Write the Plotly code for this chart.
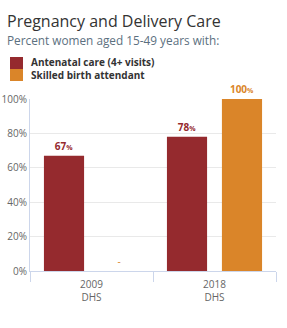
import plotly.graph_objects as go

categories = ["2009<br>DHS", "2018<br>DHS"]
antenatal = [67, 78]
skilled = [0, 100]
series_names = ["Antenatal care (4+ visits)", "Skilled birth attendant"]
colors = ["#952A2E", "#DA8529"]
y_ticks = [0, 20, 40, 60, 80, 100]
y_tick_text = ["0%", "20%", "40%", "60%", "80%", "100%"]

def lbl(v):
    return f"<b>{v}</b><span style='font-size:7px'><b>%</b></span>"

ant_text = [lbl(v) for v in antenatal]
sk_text = [("-" if v == 0 else lbl(v)) for v in skilled]

fig = go.Figure()
fig.add_trace(go.Bar(x=categories, y=antenatal, name=series_names[0],
                     marker=dict(color=colors[0], line=dict(width=0)),
                     text=ant_text, textposition="outside", cliponaxis=False,
                     textfont=dict(color=colors[0], size=10, family="Open Sans")))
fig.add_trace(go.Bar(x=categories, y=skilled, name=series_names[1],
                     marker=dict(color=colors[1], line=dict(width=0)),
                     text=sk_text, textposition="outside", cliponaxis=False,
                     textfont=dict(color=colors[1], size=10, family="Open Sans")))

W, H = 287, 328
plot_left, plot_right, plot_top, plot_bottom = 30, 276, 99, 271  # screen px
L, R, T, B = plot_left, W - plot_right, plot_top, H - plot_bottom
pw, ph = W - L - R, H - T - B

def px_x(x):
    return (x - L) / pw

def px_y(y):
    return (H - B - y) / ph

shapes = []
for i, c in enumerate(colors):
    y0 = 57 + i * 12
    shapes.append(dict(type="rect", xref="paper", yref="paper",
                       x0=px_x(10), x1=px_x(23), y0=px_y(y0 + 12), y1=px_y(y0),
                       fillcolor=c, line=dict(width=0)))

annotations = [
    dict(text="<br>".join(f"<b>{n}</b>" for n in series_names), xref="paper", yref="paper",
         x=px_x(30), y=px_y(69), xanchor="left", yanchor="middle", align="left",
         showarrow=False, borderpad=0,
         font=dict(size=10, color="#333333", family="Open Sans")),
    dict(text="Pregnancy and Delivery Care", xref="paper", yref="paper",
         x=px_x(6), y=px_y(9), xanchor="left", yanchor="top", showarrow=False,
         borderpad=0, font=dict(size=16, color="#333333", family="Open Sans")),
    dict(text="Percent women aged 15-49 years with:", xref="paper", yref="paper",
         x=px_x(6), y=px_y(31), xanchor="left", yanchor="top", showarrow=False,
         borderpad=0, font=dict(size=11.8, color="#5c7080", family="Open Sans")),
]

fig.update_layout(
    width=W, height=H,
    margin=dict(l=L, r=R, t=T, b=B, autoexpand=False),
    paper_bgcolor="white", plot_bgcolor="white",
    barmode="group", bargap=0.106, bargroupgap=0.27,
    showlegend=False,
    shapes=shapes, annotations=annotations,
    font=dict(family="Open Sans", color="#666666", size=10),
    xaxis=dict(type="category", tickson="boundaries", ticks="outside", ticklen=10,
               tickcolor="#ccd6eb", showline=True, linecolor="#ccd6eb", linewidth=1,
               showgrid=False, automargin=False, ticklabelstandoff=4,
               tickfont=dict(size=10, color="#666666")),
    yaxis=dict(range=[0, 100], tickvals=y_ticks, ticktext=y_tick_text, showline=True,
               linecolor="#ccd6eb", linewidth=1, gridcolor="#e9e9e9", gridwidth=1,
               zeroline=False, automargin=False, ticks="",
               tickfont=dict(size=10, color="#666666")),
)

fig.write_html("out.html", config={"displayModeBar": False},
               post_script="document.body.style.margin='0px';document.body.style.overflow='hidden';")
